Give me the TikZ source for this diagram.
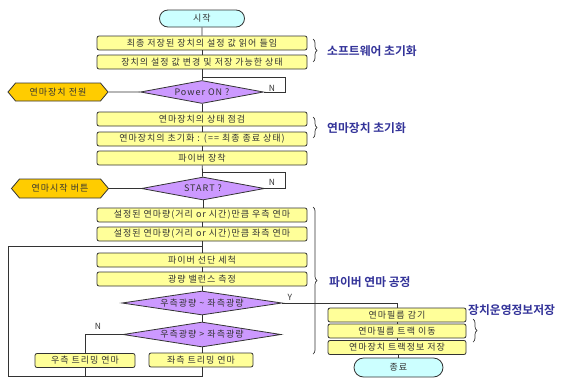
\documentclass[tikz,border=0pt]{standalone}
\usepackage{fontspec}
\setmainfont[LetterSpace=11]{Noto Sans CJK KR}
\newfontfamily\lblfont[BoldFont={Noto Sans CJK KR Bold}]{Noto Sans CJK KR}
\usetikzlibrary{shapes.geometric,shapes.misc,shapes.symbols,decorations.pathreplacing}
\definecolor{procfill}{HTML}{FFFF99}
\definecolor{decfill}{HTML}{CC99FF}
\definecolor{hexfill}{HTML}{FFCC00}
\definecolor{termfill}{HTML}{CCFFFF}
\definecolor{linec}{HTML}{333333}
\definecolor{txtc}{HTML}{333333}
\definecolor{lblc}{HTML}{333399}
\tikzset{
  base/.style={draw=linec, line width=0.8pt, text=txtc, inner sep=0pt, font=\fontsize{9}{10}\selectfont},
  proc/.style={base, fill=procfill, rounded corners=2pt, minimum height=14pt, minimum width=210pt},
  rproc/.style={base, fill=procfill, rounded corners=2pt, minimum height=14pt, minimum width=138pt},
  dec/.style={base, diamond, fill=decfill, aspect=6},
  term/.style={base, rounded rectangle, fill=termfill},
  hexa/.style={base, signal, signal to=east and west, signal pointer angle=100, fill=hexfill},
  conn/.style={draw=linec, line width=0.8pt},
  yn/.style={text=txtc, font=\fontsize{8.5}{9}\selectfont, inner sep=0pt},
  lbl/.style={text=lblc, font=\lblfont\bfseries\fontsize{11.8}{12}\selectfont, anchor=west, inner sep=0pt},
  brc/.style={draw=linec, line width=0.7pt, decorate, decoration={brace, amplitude=4pt}}
}
\begin{document}
\begin{tikzpicture}[x=1pt,y=-1pt]
\useasboundingbox (0,0) rectangle (562,378);
% main column
\node[term, minimum width=85pt, minimum height=17pt] (start) at (202,18.5) {시작};
\node[proc] (b1) at (202,43) {최종 저장된 장치의 설정 값 읽어 들임};
\node[proc] (b2) at (202,62) {장치의 설정 값 변경 및 저장 가능한 상태};
\node[dec, minimum width=123pt, minimum height=23pt] (d1) at (202,92) {Power ON ?};
\node[hexa, minimum width=100pt, minimum height=18pt] (h1) at (58,92) {연마장치 전원};
\node[proc] (b3) at (202,119) {연마장치의 상태 점검};
\node[proc] (b4) at (202,139) {연마장치의 초기화 : (== 최종 종료 상태)};
\node[proc] (b5) at (202,158) {파이버 장착};
\node[dec, minimum width=123pt, minimum height=23pt] (d2) at (203,188.5) {START ?};
\node[hexa, minimum width=97pt, minimum height=19pt] (h2) at (60,188.5) {연마시작 버튼};
\node[proc] (b6) at (202,215) {설정된 연마량(거리 or 시간)만큼 우측 연마};
\node[proc] (b7) at (202,234) {설정된 연마량(거리 or 시간)만큼 좌측 연마};
\node[proc] (b8) at (202,260) {파이버 선단 세척};
\node[proc] (b9) at (202,279) {광량 밸런스 측정};
\node[dec, minimum width=160pt, minimum height=24pt] (d3) at (202,303) {우측광량 \textasciitilde{} 좌측광량};
\node[dec, minimum width=158pt, minimum height=25pt] (d4) at (202,334.5) {우측광량 > 좌측광량};
\node[proc, minimum width=100pt] (tr) at (85,360.5) {우측 트리밍 연마};
\node[proc, minimum width=104pt] (tl) at (201,360) {좌측 트리밍 연마};
% right column
\node[rproc] (r1) at (397,315) {연마필름 감기};
\node[rproc] (r2) at (397,331) {연마필름 트랙 이동};
\node[rproc] (r3) at (397,347.5) {연마장치 트랙정보 저장};
\node[term, minimum width=89pt, minimum height=19pt] (end) at (398.5,367.5) {종료};
% coordinates
\coordinate (j1) at (202,77);
\coordinate (n1) at (285,77);
\coordinate (j2) at (202,172);
\coordinate (n2) at (285,172);
\coordinate (j3) at (202,246);
\coordinate (c1) at (8,246);
\coordinate (c2) at (8,376);
\coordinate (bl) at (202,376);
\coordinate (br) at (85,376);
% connectors
\draw[conn] (start) -- (b1);
\draw[conn] (b1) -- (b2);
\draw[conn] (b2) -- (d1);
\draw[conn] (d1) -- (b3);
\draw[conn] (b3) -- (b4);
\draw[conn] (b4) -- (b5);
\draw[conn] (b5) -- (d2);
\draw[conn] (d2.south) -- (d2.south |- b6.north);
\draw[conn] (b6) -- (b7);
\draw[conn] (b7.south) -- (b8.north);
\draw[conn] (b8) -- (b9);
\draw[conn] (b9) -- (d3);
\draw[conn] (d3) -- (d4);
\draw[conn] (d4.south) -- (tl.north -| d4.south);
\draw[conn] (h1) -- (d1);
\draw[conn] (h2) -- (d2);
\draw[conn] (d1.east) -| (n1) -- (j1);
\draw[conn] (d2.east) -| (n2) -- (j2);
\draw[conn] (d4.west) -| (tr.north);
\draw[conn] (tr.south) -- (br);
\draw[conn] (tl.south -| bl) -- (bl) -- (c2) -- (c1) -- (j3);
\draw[conn] (d3.east) -| (r1.north);
\draw[conn] (r1) -- (r2);
\draw[conn] (r2) -- (r3);
\draw[conn] (r3.south -| end.north) -- (end.north);
% Y/N labels
\node[yn] (nl1) at (272,88) {N};
\node[yn] (nl2) at (272,182) {N};
\node[yn] (yl) at (290,297) {Y};
\node[yn] (nl3) at (98,326) {N};
% braces
\draw[brc] (313,39) -- (313,62);
\draw[brc] (313,117) -- (313,138);
\draw[brc] (313,207) -- (313,354);
\draw[brc] (473,319) -- (473,342);
% group labels
\node[lbl] (g1) at (327,51) {소프트웨어 초기화};
\node[lbl] (g2) at (327,128) {연마장치 초기화};
\node[lbl] (g3) at (329,282) {파이버 연마 공정};
\node[lbl] (g4) at (468,310) {장치운영정보저장};
\end{tikzpicture}
\end{document}
